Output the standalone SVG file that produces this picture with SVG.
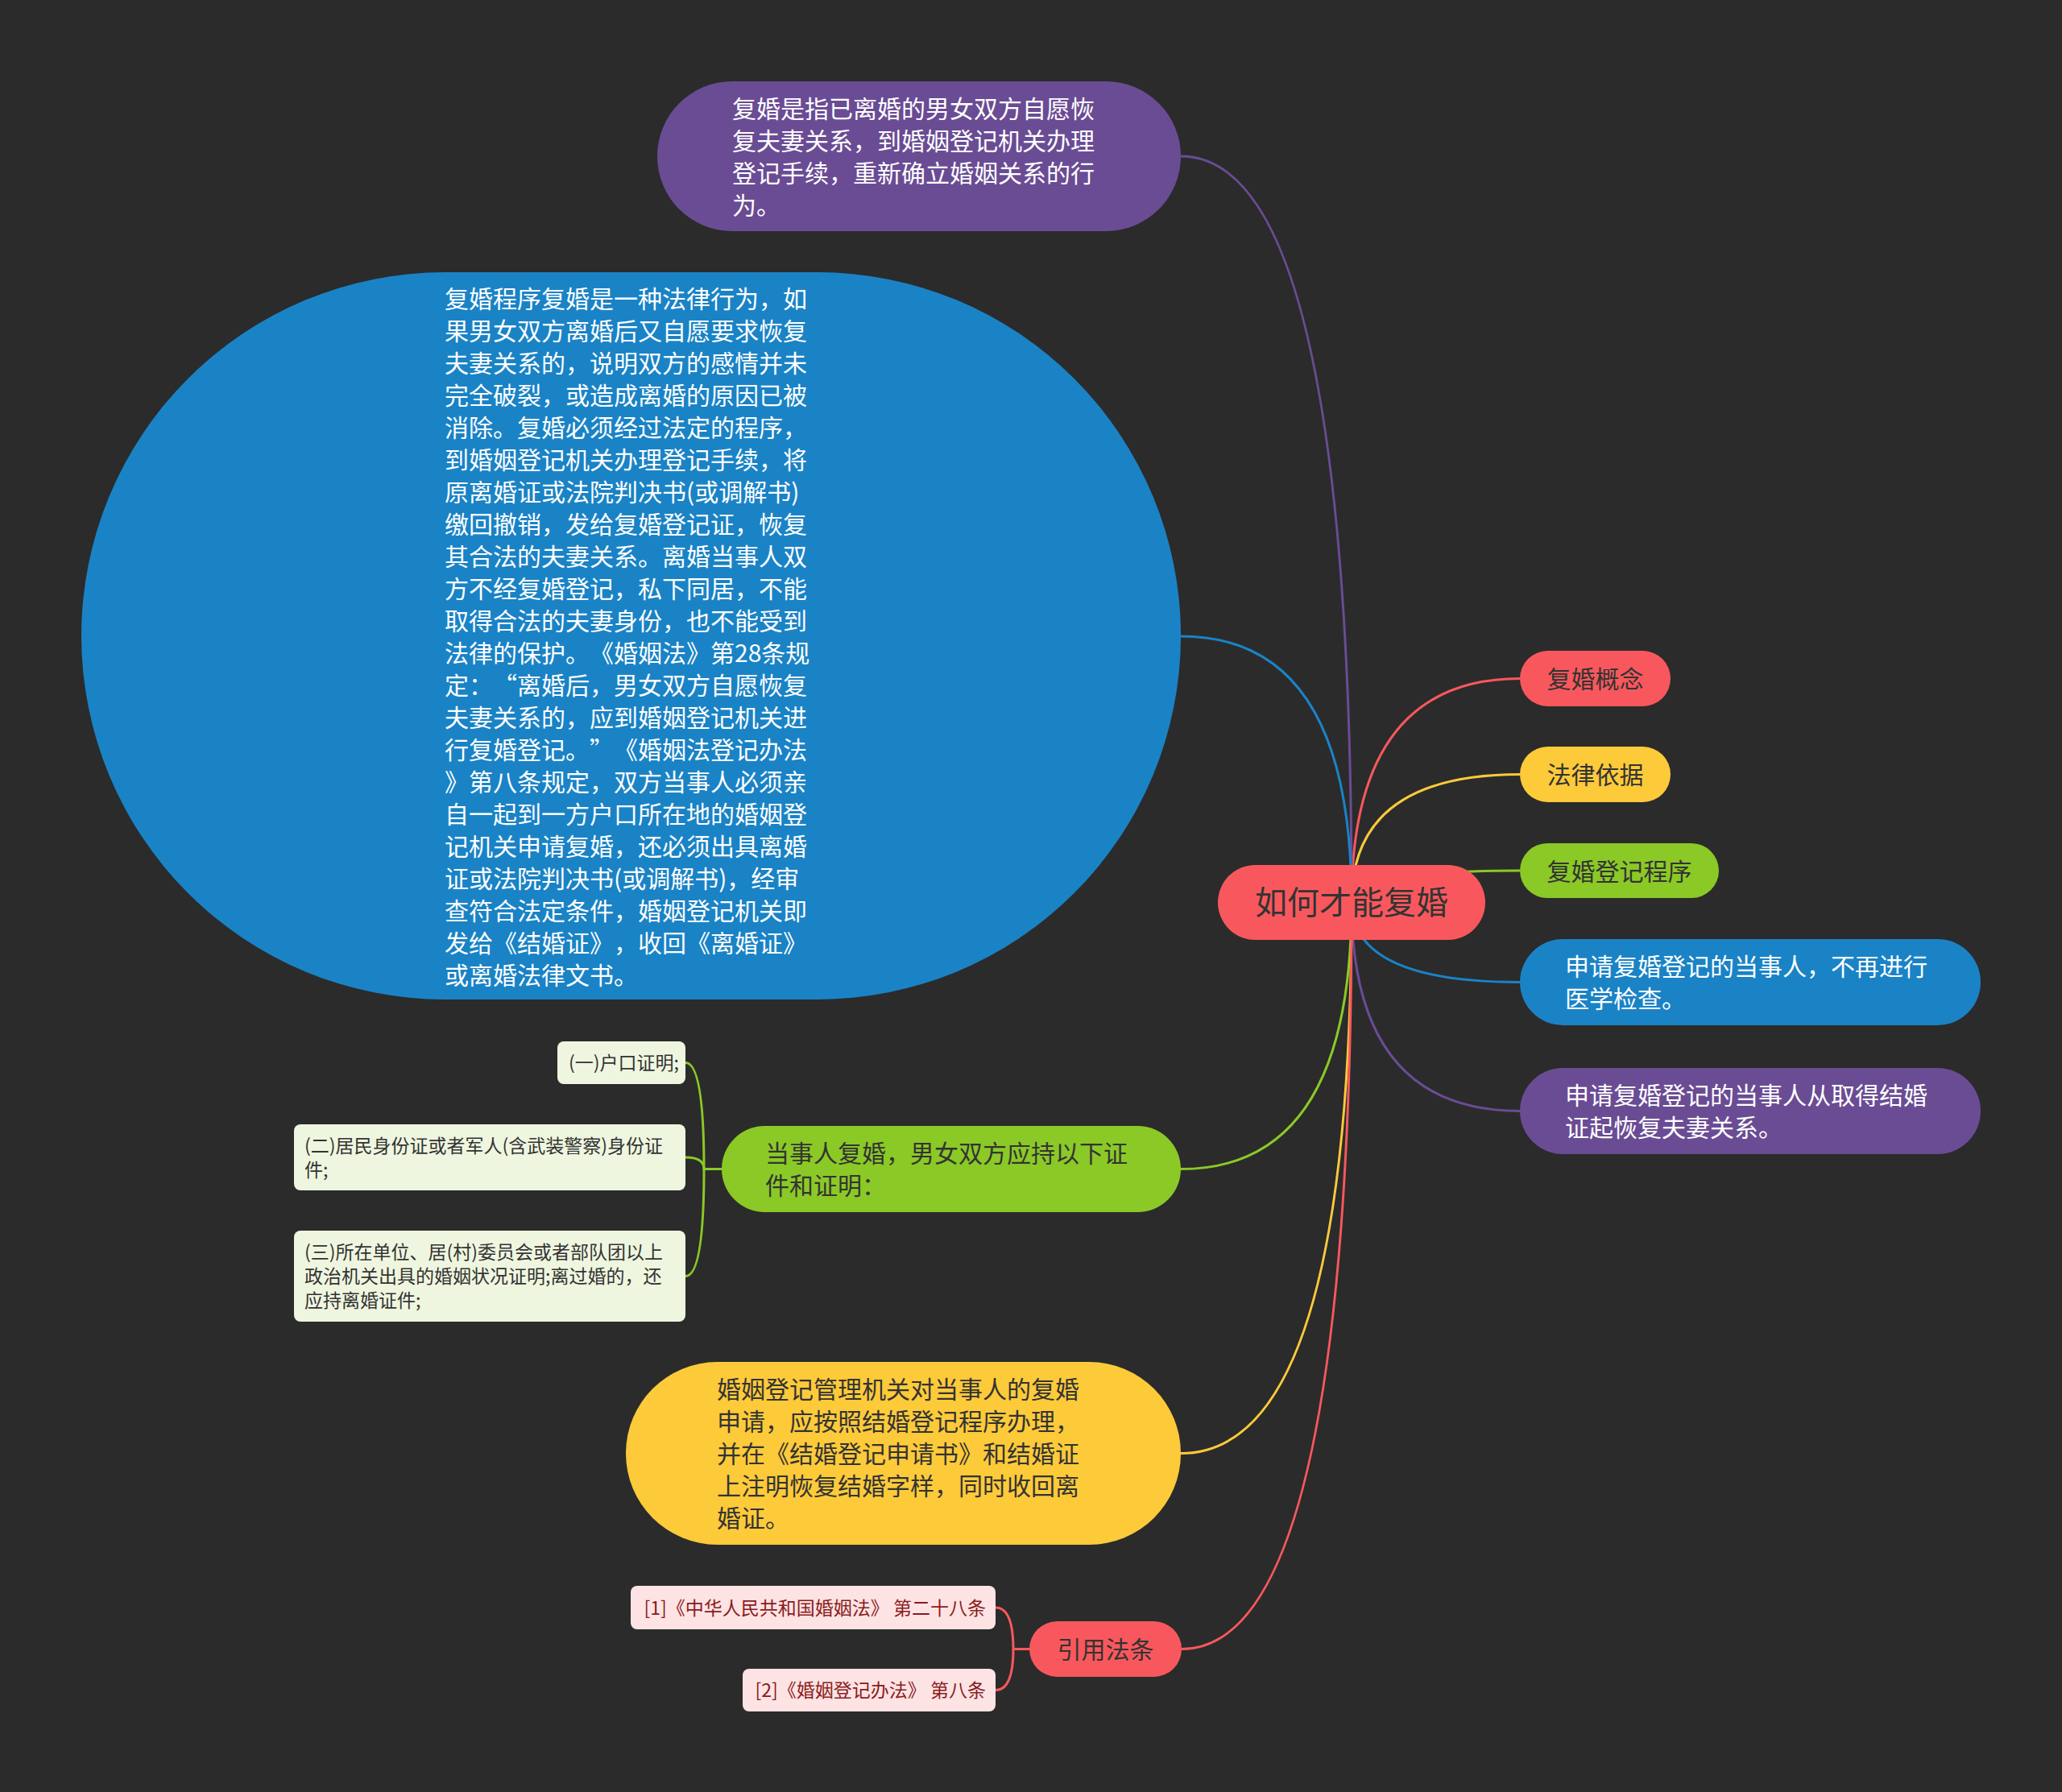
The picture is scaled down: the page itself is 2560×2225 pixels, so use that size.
<svg xmlns="http://www.w3.org/2000/svg" width="2560" height="2225" viewBox="0 0 2560 2225">
<style>
text{font-family:"Noto Sans CJK SC","Noto Sans",sans-serif;text-spacing-trim:space-all;}
.t30{font-size:30px;}
.t40{font-size:40px;}
.t23{font-size:23px;}
.w{fill:#ffffff;}
.d{fill:#333333;}
.dr{fill:#8a1c1c;}
.fw{font-feature-settings:"fwid" 1;}
.ln{fill:none;stroke-width:3;}
.red{fill:#f8585d;}
.yel{fill:#fdca3a;}
.grn{fill:#8bc926;}
.blu{fill:#1a83c6;}
.pur{fill:#6a4c94;}
.gc{fill:#eff6df;}
.pc{fill:#fde3e4;}
</style>
<rect x="0" y="0" width="2560" height="2225" fill="#2b2b2b"/>
<g id="connectors">
<path class="ln" stroke="#f8585d" d="M1678 1120 Q1678 842.5 1887 842.5"/>
<path class="ln" stroke="#fdca3a" d="M1678 1120 Q1678 961.5 1887 961.5"/>
<path class="ln" stroke="#8bc926" d="M1678 1120 Q1678 1081 1887 1081"/>
<path class="ln" stroke="#1a83c6" d="M1678 1120 Q1678 1219.5 1887 1219.5"/>
<path class="ln" stroke="#6a4c94" d="M1678 1120 Q1678 1379.5 1887 1379.5"/>
<path class="ln" stroke="#6a4c94" d="M1678 1120 Q1678 194 1466 194"/>
<path class="ln" stroke="#1a83c6" d="M1678 1120 Q1678 790 1466 790"/>
<path class="ln" stroke="#8bc926" d="M1678 1120 Q1678 1451.5 1466 1451.5"/>
<path class="ln" stroke="#fdca3a" d="M1678 1120 Q1678 1804.5 1466 1804.5"/>
<path class="ln" stroke="#f8585d" d="M1678 1120 Q1678 2047.5 1467 2047.5"/>
<path class="ln" stroke="#8bc926" d="M896 1451.5 L874 1451.5 Q874 1319.5 851 1319.5"/>
<path class="ln" stroke="#8bc926" d="M874 1451.5 Q874 1437 851 1437"/>
<path class="ln" stroke="#8bc926" d="M874 1451.5 Q874 1584.5 851 1584.5"/>
<path class="ln" stroke="#f8585d" d="M1278 2047.5 L1258 2047.5 Q1258 1996 1236 1996"/>
<path class="ln" stroke="#f8585d" d="M1258 2047.5 Q1258 2098.5 1236 2098.5"/>
</g>
<g id="root">
<rect class="red" x="1512" y="1074" width="332" height="93" rx="46.5"/>
<text class="t40 d" x="1678" y="1135" text-anchor="middle">如何才能复婚</text>
</g>
<g id="n-concept">
<rect class="red" x="1887" y="808" width="187" height="69" rx="34.5"/>
<text class="t30 d" x="1980.5" y="854" text-anchor="middle">复婚概念</text>
</g>
<g id="n-law">
<rect class="yel" x="1887" y="927" width="187" height="69" rx="34.5"/>
<text class="t30 d" x="1980.5" y="973" text-anchor="middle">法律依据</text>
</g>
<g id="n-proc">
<rect class="grn" x="1887" y="1047" width="247" height="68" rx="34"/>
<text class="t30 d" x="2010.5" y="1092.5" text-anchor="middle">复婚登记程序</text>
</g>
<g id="n-medical">
<rect class="blu" x="1887" y="1166" width="572" height="107" rx="53.5"/>
<text class="t30 w" x="1943" y="1211">申请复婚登记的当事人，不再进行</text>
<text class="t30 w" x="1943" y="1251">医学检查。</text>
</g>
<g id="n-restore">
<rect class="pur" x="1887" y="1326" width="572" height="107" rx="53.5"/>
<text class="t30 w" x="1943" y="1371">申请复婚登记的当事人从取得结婚</text>
<text class="t30 w" x="1943" y="1411">证起恢复夫妻关系。</text>
</g>
<g id="n-definition">
<rect class="pur" x="816" y="101" width="650" height="186" rx="93"/>
<text class="t30 w" x="909" y="145.5">复婚是指已离婚的男女双方自愿恢</text>
<text class="t30 w" x="909" y="185.5">复夫妻关系，到婚姻登记机关办理</text>
<text class="t30 w" x="909" y="225.5">登记手续，重新确立婚姻关系的行</text>
<text class="t30 w" x="909" y="265.5">为。</text>
</g>
<g id="n-procedure">
<rect class="blu" x="101" y="338" width="1365" height="903" rx="451.5"/>
<text class="t30 w" x="552" y="381.5">复婚程序复婚是一种法律行为，如</text>
<text class="t30 w" x="552" y="421.5">果男女双方离婚后又自愿要求恢复</text>
<text class="t30 w" x="552" y="461.5">夫妻关系的，说明双方的感情并未</text>
<text class="t30 w" x="552" y="501.5">完全破裂，或造成离婚的原因已被</text>
<text class="t30 w" x="552" y="541.5">消除。复婚必须经过法定的程序，</text>
<text class="t30 w" x="552" y="581.5">到婚姻登记机关办理登记手续，将</text>
<text class="t30 w" x="552" y="621.5">原离婚证或法院判决书(或调解书)</text>
<text class="t30 w" x="552" y="661.5">缴回撤销，发给复婚登记证，恢复</text>
<text class="t30 w" x="552" y="701.5">其合法的夫妻关系。离婚当事人双</text>
<text class="t30 w" x="552" y="741.5">方不经复婚登记，私下同居，不能</text>
<text class="t30 w" x="552" y="781.5">取得合法的夫妻身份，也不能受到</text>
<text class="t30 w" x="552" y="821.5">法律的保护。《婚姻法》第28条规</text>
<text class="t30 w" x="552" y="861.5">定：<tspan class="fw">“</tspan>离婚后，男女双方自愿恢复</text>
<text class="t30 w" x="552" y="901.5">夫妻关系的，应到婚姻登记机关进</text>
<text class="t30 w" x="552" y="941.5">行复婚登记。<tspan class="fw">”</tspan>《婚姻法登记办法</text>
<text class="t30 w" x="552" y="981.5">》第八条规定，双方当事人必须亲</text>
<text class="t30 w" x="552" y="1021.5">自一起到一方户口所在地的婚姻登</text>
<text class="t30 w" x="552" y="1061.5">记机关申请复婚，还必须出具离婚</text>
<text class="t30 w" x="552" y="1101.5">证或法院判决书(或调解书)，经审</text>
<text class="t30 w" x="552" y="1141.5">查符合法定条件，婚姻登记机关即</text>
<text class="t30 w" x="552" y="1181.5">发给《结婚证》，收回《离婚证》</text>
<text class="t30 w" x="552" y="1221.5">或离婚法律文书。</text>
</g>
<g id="n-documents">
<rect class="grn" x="896" y="1398" width="570" height="107" rx="53.5"/>
<text class="t30 d" x="950" y="1443">当事人复婚，男女双方应持以下证</text>
<text class="t30 d" x="950" y="1483">件和证明：</text>
</g>
<g id="c-doc1">
<rect class="gc" x="692" y="1293" width="159" height="53" rx="8"/>
<text class="t23 d" x="706" y="1328">(一)户口证明;</text>
</g>
<g id="c-doc2">
<rect class="gc" x="365" y="1396" width="486" height="82" rx="8"/>
<text class="t23 d" x="378" y="1430.5">(二)居民身份证或者军人(含武装警察)身份证</text>
<text class="t23 d" x="378" y="1460.5">件;</text>
</g>
<g id="c-doc3">
<rect class="gc" x="365" y="1528" width="486" height="113" rx="8"/>
<text class="t23 d" x="378" y="1563">(三)所在单位、居(村)委员会或者部队团以上</text>
<text class="t23 d" x="378" y="1593">政治机关出具的婚姻状况证明;离过婚的，还</text>
<text class="t23 d" x="378" y="1623">应持离婚证件;</text>
</g>
<g id="n-register">
<rect class="yel" x="777" y="1691" width="689" height="227" rx="113.5"/>
<text class="t30 d" x="890" y="1736">婚姻登记管理机关对当事人的复婚</text>
<text class="t30 d" x="890" y="1776">申请，应按照结婚登记程序办理，</text>
<text class="t30 d" x="890" y="1816">并在《结婚登记申请书》和结婚证</text>
<text class="t30 d" x="890" y="1856">上注明恢复结婚字样，同时收回离</text>
<text class="t30 d" x="890" y="1896">婚证。</text>
</g>
<g id="n-cite">
<rect class="red" x="1278" y="2013" width="189" height="69" rx="34.5"/>
<text class="t30 d" x="1372.5" y="2059" text-anchor="middle">引用法条</text>
</g>
<g id="c-cite1">
<rect class="pc" x="783" y="1969" width="453" height="54" rx="8"/>
<text class="t23 dr" x="1224" y="2004.5" text-anchor="end">[1]《中华人民共和国婚姻法》 第二十八条</text>
</g>
<g id="c-cite2">
<rect class="pc" x="922" y="2072" width="314" height="53" rx="8"/>
<text class="t23 dr" x="1224" y="2107" text-anchor="end">[2]《婚姻登记办法》 第八条</text>
</g>
</svg>
